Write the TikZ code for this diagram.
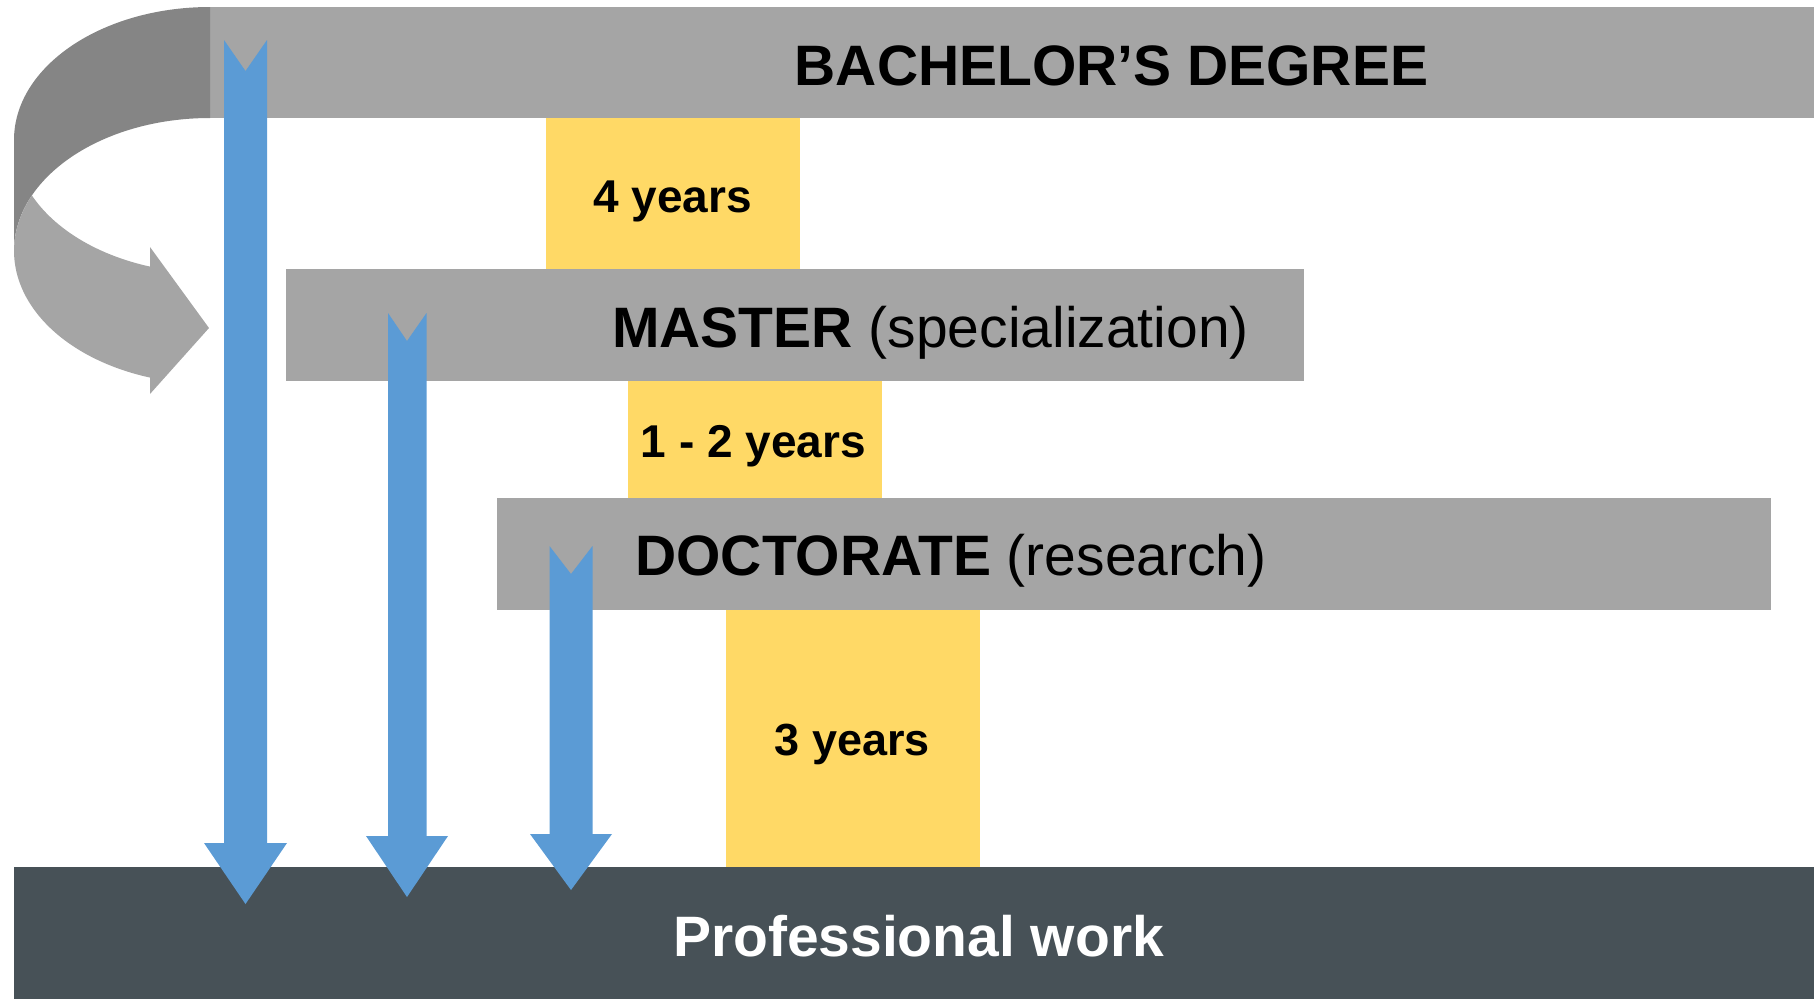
\documentclass[tikz,border=0pt]{standalone}
\usepackage{fontspec}
\setmainfont{Liberation Sans}
\definecolor{barg}{HTML}{A5A5A5}
\definecolor{darkg}{HTML}{858585}
\definecolor{yel}{HTML}{FFD966}
\definecolor{blu}{HTML}{5B9BD5}
\definecolor{slate}{HTML}{475157}
\tikzset{
  bar/.style={fill=barg, inner sep=0pt, outer sep=0pt, anchor=north west},
  yearbox/.style={fill=yel, inner sep=0pt, outer sep=0pt, anchor=north west},
  big/.style={inner sep=0pt, anchor=base, font=\fontsize{57}{60}\selectfont},
  small/.style={inner sep=0pt, anchor=base, font=\fontsize{46}{50}\selectfont\bfseries},
  bluearrow/.style={fill=blu}
}
\begin{document}
\begin{tikzpicture}[x=1pt,y=-1pt]
\useasboundingbox (0,0) rectangle (1814,999);
% bars
\node[bar, minimum width=1605pt, minimum height=111pt] (bach) at (209,7) {};
\node[bar, minimum width=1018pt, minimum height=112pt] (mast) at (286,269) {};
\node[bar, minimum width=1274pt, minimum height=112pt] (doct) at (497,498) {};
\node[fill=slate, inner sep=0pt, outer sep=0pt, anchor=north west, minimum width=1800pt, minimum height=132pt] (prof) at (14,867) {};
% year boxes
\node[yearbox, minimum width=254pt, minimum height=151pt] (y4) at (546,118) {};
\node[yearbox, minimum width=254pt, minimum height=117pt] (y12) at (628,381) {};
\node[yearbox, minimum width=254pt, minimum height=257pt] (y3) at (726,610) {};
% curved arrow
\fill[darkg] (210,7) arc[start angle=270, end angle=180, x radius=196, y radius=133]
  -- (14,251) arc[start angle=180, end angle=270, x radius=196, y radius=133] -- cycle;
\fill[barg] (31.8,195.6) arc[start angle=204.6, end angle=107.8, x radius=196, y radius=133]
  -- (150,394) -- (209,328) -- (150,247) -- (150.1,266.6)
  arc[start angle=107.8, end angle=155.4, x radius=196, y radius=133] -- cycle;
% texts
\node[big] (tb) at (1111.5,85) {\bfseries BACHELOR’S DEGREE};
\node[big] (tm) at (930.5,347) {\textbf{MASTER} (specialization)};
\node[big] (td) at (951,575) {\textbf{DOCTORATE} (research)};
\node[big, text=white] (tp) at (918.5,956) {\bfseries Professional work};
\node[small] (t4) at (672.5,212) {4 years};
\node[small] (t12) at (753.5,457) {1 - 2 years};
\node[small, font=\fontsize{45}{50}\selectfont\bfseries] (t3) at (852.5,755) {3 years};
% blue arrows
\fill[bluearrow] (224,40) -- (245.5,71) -- (267,40) -- (267,843) -- (287,843) -- (245.5,904) -- (204,843) -- (224,843) -- cycle;
\fill[bluearrow] (388,313) -- (407,341) -- (426.5,313) -- (426.5,836) -- (448,836) -- (407,897) -- (366,836) -- (388,836) -- cycle;
\fill[bluearrow] (549.5,546) -- (571,574) -- (592.5,546) -- (592.5,834) -- (612,834) -- (571,890) -- (530,834) -- (549.5,834) -- cycle;
\end{tikzpicture}
\end{document}
